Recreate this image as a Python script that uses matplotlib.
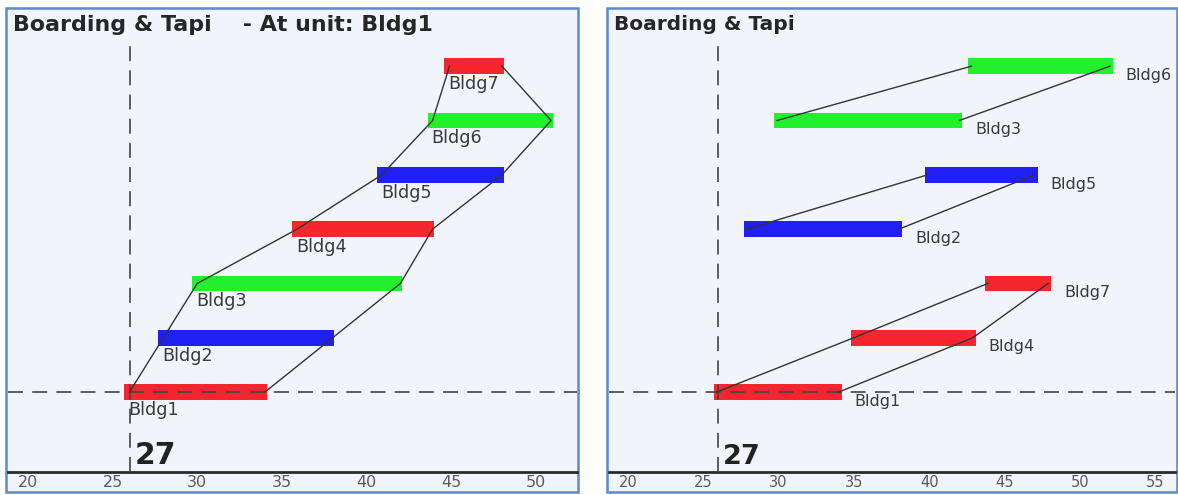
import matplotlib.pyplot as plt
from matplotlib.patches import Rectangle

# bars, left panel (sequence by unit)
left_names = ['Bldg1', 'Bldg2', 'Bldg3', 'Bldg4', 'Bldg5', 'Bldg6', 'Bldg7']
left_start = [25.7, 27.7, 29.7, 35.6, 40.6, 43.6, 44.6]
left_end = [34.1, 38.1, 42.1, 44.0, 48.1, 51.0, 48.1]
left_colors = ['red', 'blue', 'green', 'red', 'blue', 'green', 'red']

# bars, right panel (grouped by crew)
right_names = ['Bldg1', 'Bldg4', 'Bldg7', 'Bldg2', 'Bldg5', 'Bldg3', 'Bldg6']
right_start = [25.7, 34.8, 43.7, 27.7, 39.7, 29.7, 42.6]
right_end = [34.2, 43.1, 48.1, 38.2, 47.2, 42.2, 52.2]
right_colors = ['red', 'red', 'red', 'blue', 'blue', 'green', 'green']
right_groups = [[0, 1, 2], [3, 4], [5, 6]]

xticks_left = [20, 25, 30, 35, 40, 45, 50]
xticks_right = [20, 25, 30, 35, 40, 45, 50, 55]
today = 26
day_label = '27'

palette = {'red': '#f5262e', 'blue': '#2020f5', 'green': '#22f02c'}
BG = '#f1f4fa'
FRAME = '#5b8bc9'
INK = '#3a3a3a'
W, H = 1178, 495

fig = plt.figure(figsize=(W / 100, H / 100), dpi=100)


def px(x0, y0, x1, y1):
    # pixel box (top-left origin) -> figure fraction rect
    return [x0 / W, 1 - y1 / H, (x1 - x0) / W, (y1 - y0) / H]


def panel(box, axbox, xlim, starts, ends, colors, names, ticks, title,
          label_side, scale):
    fig.add_artist(Rectangle((box[0], box[1]), box[2], box[3],
                             transform=fig.transFigure, facecolor=BG,
                             edgecolor=FRAME, linewidth=1.8, zorder=0))
    ax = fig.add_axes(axbox)
    ax.set_facecolor('none')
    ax.set_xlim(*xlim)
    ax.set_ylim(-1.473, 7.035)
    for s in ['top', 'right', 'left']:
        ax.spines[s].set_visible(False)
    ax.spines['bottom'].set_color('#2a2a2a')
    ax.spines['bottom'].set_linewidth(2)
    ax.set_yticks([])
    ax.set_xticks(ticks)
    ax.set_xticklabels([str(t) for t in ticks], color='#5a5a5a',
                       fontsize=10.5 * scale)
    ax.tick_params(axis='x', length=0, pad=2)

    levels = list(range(len(names)))
    ax.barh(levels, [e - s for s, e in zip(starts, ends)], left=starts,
            height=0.29, color=[palette[c] for c in colors], zorder=2)

    # reference lines
    ax.axhline(0, color='#444444', lw=1.2, dashes=(9, 5.5), zorder=3)
    ax.plot([today, today], [-1.473, 6.45], color='#444444', lw=1.2,
            dashes=(9, 5.5), zorder=3)
    ax.text(today + 0.3, -1.33, day_label, fontsize=19.5 * scale,
            fontweight='bold', color='#222222', va='baseline', ha='left')
    ax.text(0.008, 0.99, title, transform=ax.transAxes, fontsize=14.5 * scale,
            fontweight='bold', color='#262626', va='top', ha='left')

    for i, n in enumerate(names):
        if label_side == 'below':
            ax.text(starts[i] + 0.25, i - 0.33, n, fontsize=11.5 * scale,
                    color=INK, va='center', ha='left')
        else:
            ax.text(ends[i] + 0.85, i - 0.17, n, fontsize=11.5 * scale,
                    color=INK, va='center', ha='left')
    return ax


# left panel
ax1 = panel(px(6, 8, 578, 492), px(8, 10, 577, 472), (18.82, 52.43),
            left_start, left_end, left_colors, left_names, xticks_left,
            'Boarding & Tapi    - At unit: Bldg1', 'below', 1.1)
lv = range(len(left_names))
ax1.plot([s + 0.3 for s in left_start], list(lv), color='#333333', lw=1,
         zorder=4)
ax1.plot([e - 0.1 for e in left_end], list(lv), color='#333333', lw=1,
         zorder=4)

# right panel
ax2 = panel(px(607, 8, 1177, 492), px(609, 10, 1175, 472), (18.74, 56.32),
            right_start, right_end, right_colors, right_names, xticks_right,
            'Boarding & Tapi', 'right', 1.0)
for g in right_groups:
    ax2.plot([right_start[i] + 0.2 for i in g], g, color='#333333', lw=1,
             zorder=4)
    ax2.plot([right_end[i] - 0.2 for i in g], g, color='#333333', lw=1,
             zorder=4)

fig.savefig('out.png', dpi=100)
